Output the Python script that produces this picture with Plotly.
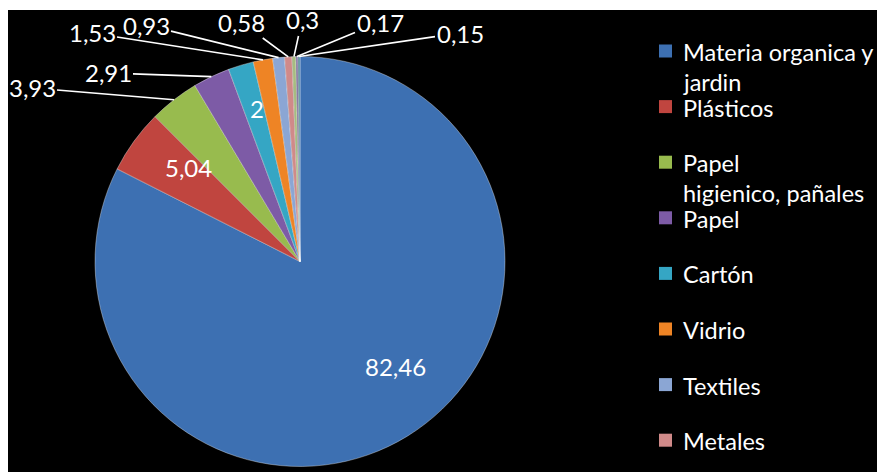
import math
import plotly.graph_objects as go

# ---- data ----
labels = ["Materia organica y jardin", "Plásticos", "Papel higienico, pañales", "Papel",
          "Cartón", "Vidrio", "Textiles", "Metales", "Madera", "Tetra Pak", "Otros"]
values = [82.46, 5.04, 3.93, 2.91, 2, 1.53, 0.93, 0.58, 0.3, 0.17, 0.15]
legend_lines = [["Materia organica y", "jardin"], ["Plásticos"], ["Papel", "higienico, pañales"],
                ["Papel"], ["Cartón"], ["Vidrio"], ["Textiles"], ["Metales"]]

# ---- style ----
colors = ["#3D70B2", "#C0453F", "#98BB4E", "#7D5BA6", "#35A6C4", "#EE8425",
          "#8BA6D4", "#D08A89", "#A6BC80", "#7E6E9E", "#4F8A9A"]
W, H = 877, 472
FONT = "Lato"
CX, CY, R = 300, 261.5, 205

# label text centres in pixels (layout), with/without leader line
label_pos = {0: (395, 383, False), 1: (163, 167, False), 2: (32, 88, True), 3: (108, 73, True),
             4: (248, 92, False), 5: (92, 33, True), 6: (146, 25, True), 7: (241, 22, True),
             8: (302, 20, True), 9: (380, 22, True), 10: (460, 33, True)}


def px(x, y):
    return x / W, 1 - y / H


def fmt(v):
    return f"{v:g}".replace(".", ",")


fig = go.Figure()
fig.add_trace(go.Pie(
    labels=labels, values=values, sort=False, direction="clockwise", rotation=0,
    marker=dict(colors=colors, line=dict(color="rgba(255,255,255,0.35)", width=1)),
    textinfo="none", showlegend=False,
    domain=dict(x=[(CX - R) / W, (CX + R) / W], y=[1 - (CY + R) / H, 1 - (CY - R) / H]),
))

total = sum(values)
cum = 0
annotations = []
for i, v in enumerate(values):
    mid = 2 * math.pi * (cum + v / 2) / total
    cum += v
    tx, ty, arrow = label_pos[i]
    if arrow:
        tipx = CX + R * math.sin(mid)
        tipy = CY - R * math.cos(mid)
        x, y = px(tipx, tipy)
        annotations.append(dict(x=x, y=y, xref="paper", yref="paper", text=fmt(v),
                                showarrow=True, arrowhead=0, arrowwidth=1.6, arrowcolor="white",
                                ax=tx - tipx, ay=ty - tipy, standoff=0,
                                font=dict(family=FONT, size=24, color="white")))
    else:
        x, y = px(tx, ty)
        annotations.append(dict(x=x, y=y, xref="paper", yref="paper", text=fmt(v),
                                showarrow=False, font=dict(family=FONT, size=24, color="white")))

# custom legend
shapes = [dict(type="rect", xref="paper", yref="paper", x0=8 / W, x1=1, y0=0, y1=1 - 10 / H,
               fillcolor="black", line=dict(width=0), layer="below")]
slot0, slot = 51, 55.6
for i, lines in enumerate(legend_lines):
    yc = slot0 + slot * i
    shapes.append(dict(type="rect", xref="paper", yref="paper",
                       x0=659 / W, x1=672 / W, y0=1 - (yc + 6.5) / H, y1=1 - (yc - 6.5) / H,
                       fillcolor=colors[i], line=dict(width=0)))
    for j, t in enumerate(lines):
        x, y = px(681, yc + 30 * j + 1)
        annotations.append(dict(x=x, y=y, xref="paper", yref="paper", text=t, showarrow=False,
                                xanchor="left", yanchor="middle",
                                font=dict(family=FONT, size=23.5, color="white")))

fig.update_layout(width=W, height=H, margin=dict(l=0, r=0, t=0, b=0),
                  paper_bgcolor="white", plot_bgcolor="white",
                  shapes=shapes, annotations=annotations)
fig.write_html("out.html")
